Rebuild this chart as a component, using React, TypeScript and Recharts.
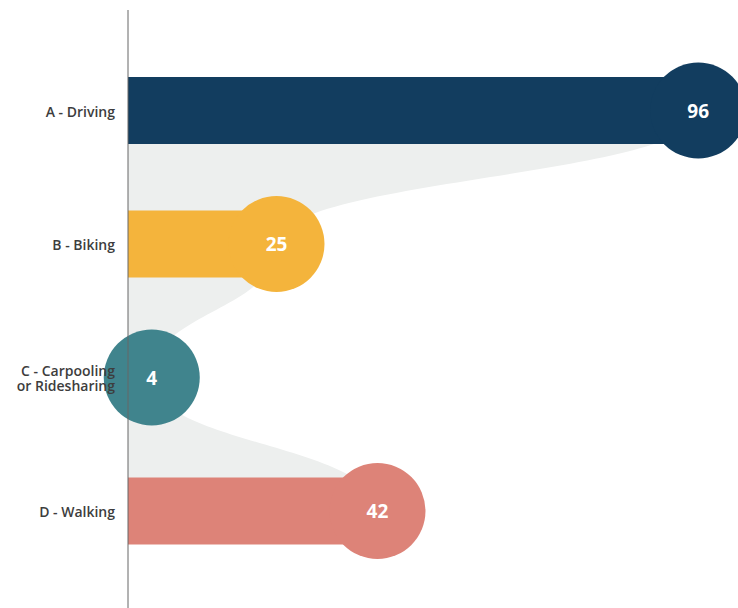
import { ComposedChart, Bar, Area, XAxis, YAxis, Cell } from 'recharts'

const categories = ['A - Driving', 'B - Biking', 'C - Carpooling\nor Ridesharing', 'D - Walking']
const values = [96, 25, 4, 42]
const colors = ['#123d5f', '#f4b43c', '#40848d', '#dd8378']

const data = categories.map((name, i) => ({ name, value: values[i] }))

const FONT = '"Open Sans", sans-serif'

const CategoryTick = (props: any) => {
  const { x, y, payload } = props
  const lines = String(payload.value).split('\n')
  const lh = 15
  const startY = y - ((lines.length - 1) * lh) / 2
  return (
    <text x={x} y={startY} textAnchor="end" dominantBaseline="central" fill="#3d3d3d"
      style={{ fontFamily: FONT, fontSize: 14, fontWeight: 600 }}>
      {lines.map((l, i) => (
        <tspan key={i} x={x} y={startY + i * lh}>{l}</tspan>
      ))}
    </text>
  )
}

// bar + circle head + value label
const LollipopShape = (props: any) => {
  const { x, y, width, height, fill, payload } = props
  const cx = x + width
  const cy = y + height / 2
  return (
    <g>
      <rect x={x} y={y} width={width} height={height} fill={fill} />
      <circle cx={cx} cy={cy} r={48} fill={fill} />
      <text x={cx} y={cy} textAnchor="middle" dominantBaseline="central" fill="#ffffff"
        style={{ fontFamily: FONT, fontSize: 19, fontWeight: 700 }}>
        {payload.value}
      </text>
    </g>
  )
}

export default function App() {
  return (
    <div style={{ position: 'absolute', left: 0, top: 0 }}>
      <ComposedChart
        width={738}
        height={608}
        data={data}
        layout="vertical"
        margin={{ top: 10, right: 16, bottom: 0, left: 0 }}
      >
        <XAxis type="number" domain={[0, 100]} hide />
        <Area
          dataKey="value"
          type="bumpY"
          fill="#edefee"
          fillOpacity={1}
          stroke="none"
          isAnimationActive={false}
        />
        <Bar dataKey="value" barSize={67} shape={<LollipopShape />} isAnimationActive={false}>
          {data.map((d, i) => (
            <Cell key={d.name} fill={colors[i]} />
          ))}
        </Bar>
        <YAxis
          type="category"
          dataKey="name"
          width={128}
          axisLine={{ stroke: '#666666', strokeWidth: 1 }}
          tickLine={false}
          tickMargin={7}
          padding={{ top: 34, bottom: 30 }}
          tick={<CategoryTick />}
          interval={0}
        />
      </ComposedChart>
    </div>
  )
}
